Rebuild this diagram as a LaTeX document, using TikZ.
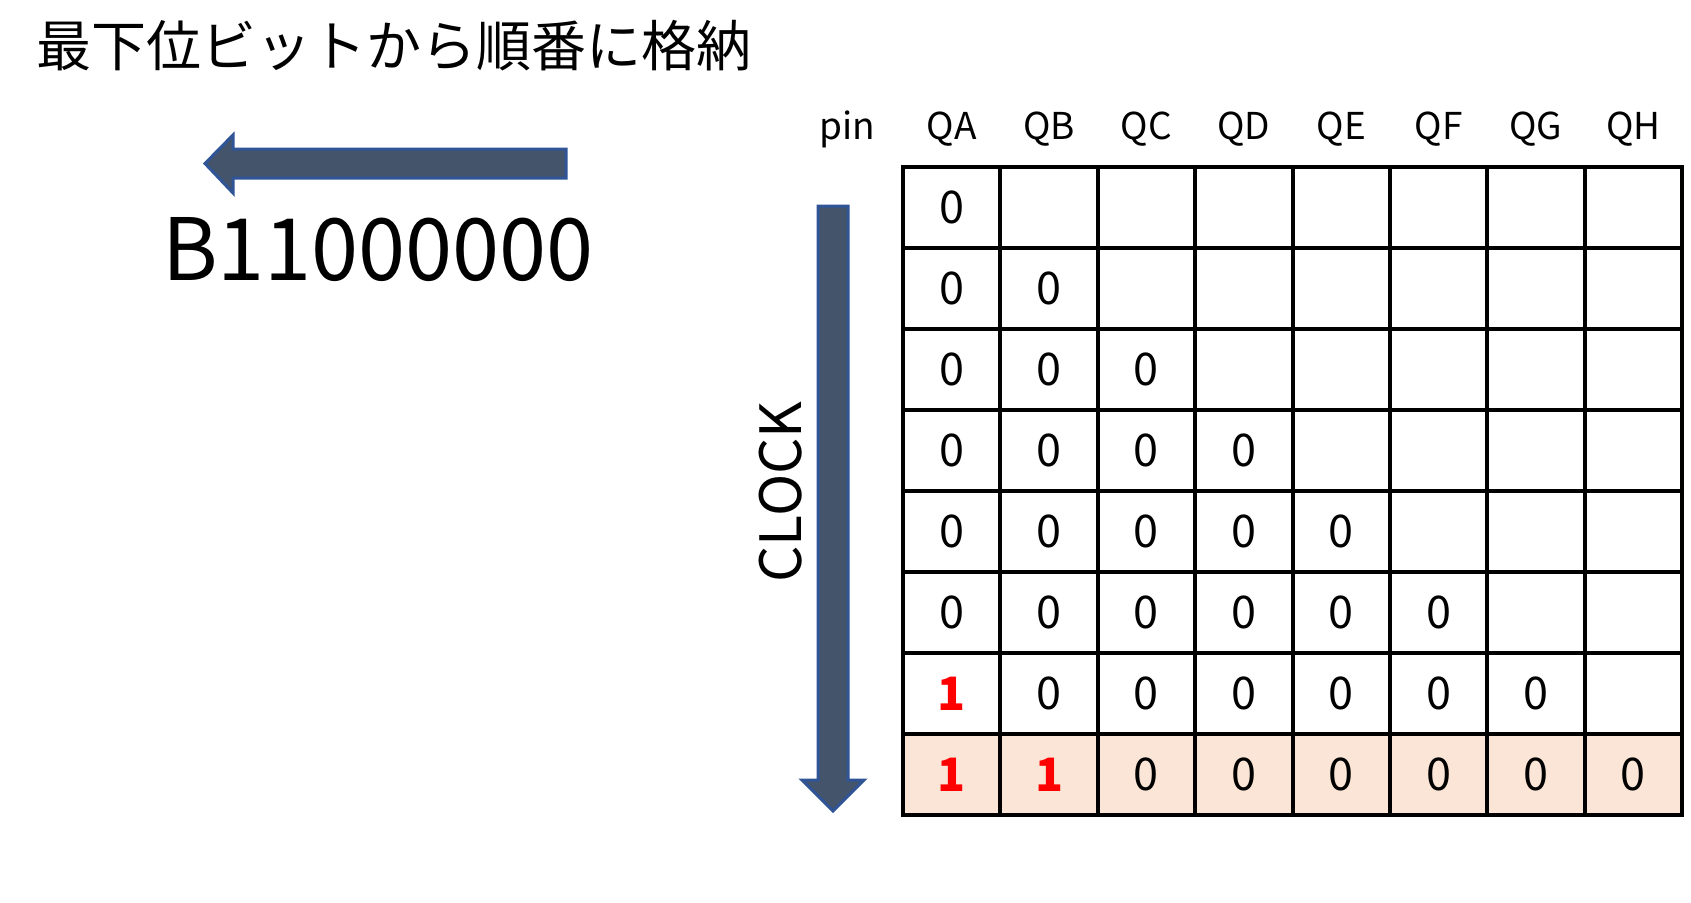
\documentclass[tikz,border=0pt]{standalone}
\usepackage{fontspec}
\setmainfont{Noto Sans CJK JP}
\newfontfamily\bigdigits[FakeStretch=0.985]{Noto Sans CJK JP}
\definecolor{arrowfill}{HTML}{44546A}
\definecolor{arrowline}{HTML}{2F5597}
\definecolor{peach}{HTML}{FBE5D6}
\definecolor{bitred}{HTML}{FF0000}
\tikzset{
  cell/.style={draw=black, line width=4pt, minimum width=97.4pt, minimum height=81pt, inner sep=0pt, outer sep=0pt, font=\fontsize{45}{54}\selectfont},
  lastcell/.style={cell, fill=peach},
  redbit/.style={text=bitred, font=\fontsize{46}{54}\selectfont\bfseries},
  header/.style={anchor=base, inner sep=0pt, font=\fontsize{37}{42}\selectfont},
  blockarrow/.style={fill=arrowfill, draw=arrowline, line width=3pt, line join=miter}
}
\begin{document}
\begin{tikzpicture}[x=1pt,y=-1pt]
\useasboundingbox (0,0) rectangle (1691,902);
% title
\node[anchor=base west, inner sep=0pt, font=\fontsize{55}{60}\selectfont] (title) at (36,66) {最下位ビットから順番に格納};
% left arrow
\draw[blockarrow] (566,149) -- (233,149) -- (233,135) -- (205,163.5) -- (233,193) -- (233,178) -- (566,178) -- cycle;
% binary value
\node[anchor=base west, inner sep=0pt, font=\fontsize{86}{90}\bigdigits] (value) at (162,280) {B11000000};
% clock arrow
\draw[blockarrow] (818,206) -- (848,206) -- (848,780) -- (864,780) -- (833,811) -- (802,780) -- (818,780) -- cycle;
\node[rotate=90, inner sep=0pt, font=\fontsize{57}{60}\selectfont] (clock) at (781,492) {CLOCK};
% headers
\node[header] (pin) at (847,139) {pin};
\foreach \name [count=\i] in {QA,QB,QC,QD,QE,QF,QG,QH} {
  \node[header] (h\i) at ({903+97.375*(\i-0.5)},139) {\name};
}
% grid rows 1..6
\foreach \r in {1,...,6} {
  \foreach \c in {1,...,8} {
    \ifnum\c>\r
      \node[cell] (c\r-\c) at ({903+97.375*(\c-0.5)},{167+81*(\r-0.5)}) {};
    \else
      \node[cell] (c\r-\c) at ({903+97.375*(\c-0.5)},{167+81*(\r-0.5)}) {0};
    \fi
  }
}
% row 7
\node[cell] (c7-1) at ({903+97.375*0.5},{167+81*6.5}) {};
\node[redbit] (b7-1) at (c7-1.center) {1};
\foreach \c in {2,...,7} {
  \node[cell] (c7-\c) at ({903+97.375*(\c-0.5)},{167+81*6.5}) {0};
}
\node[cell] (c7-8) at ({903+97.375*7.5},{167+81*6.5}) {};
% row 8
\node[lastcell] (c8-1) at ({903+97.375*0.5},{167+81*7.5}) {};
\node[redbit] (b8-1) at (c8-1.center) {1};
\node[lastcell] (c8-2) at ({903+97.375*1.5},{167+81*7.5}) {};
\node[redbit] (b8-2) at (c8-2.center) {1};
\foreach \c in {3,...,8} {
  \node[lastcell] (c8-\c) at ({903+97.375*(\c-0.5)},{167+81*7.5}) {0};
}
\end{tikzpicture}
\end{document}
